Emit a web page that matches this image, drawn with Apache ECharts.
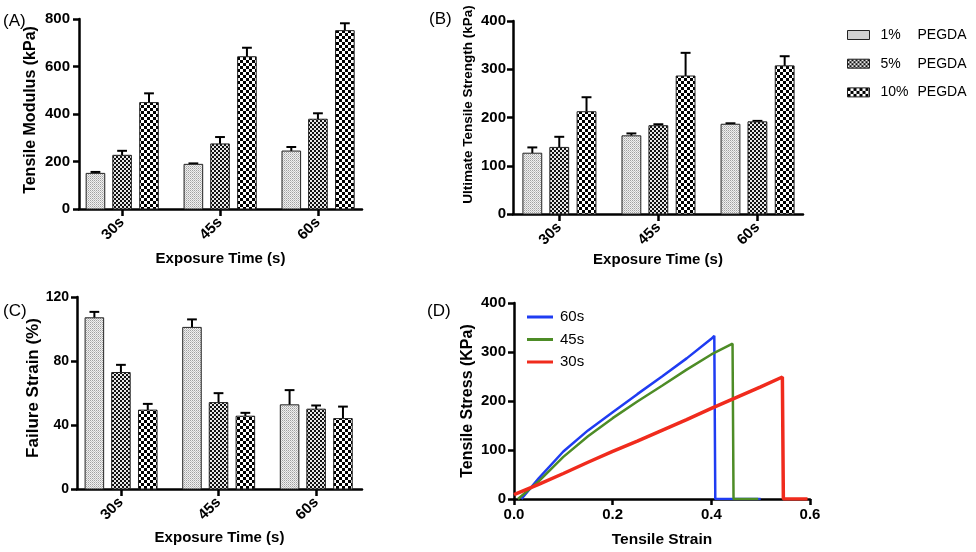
<!DOCTYPE html>
<html>
<head>
<meta charset="utf-8">
<script src="https://cdn.jsdelivr.net/npm/echarts@6/dist/echarts.min.js"></script>
<style>
html,body{margin:0;padding:0;background:#fff;}
#c{width:976px;height:552px;}
</style>
</head>
<body>
<div id="c"></div>
<script>
// ---------------- DATA ----------------
const categories = ['30s', '45s', '60s'];
const doseNames = ['1% PEGDA', '5% PEGDA', '10% PEGDA'];

// (A) Tensile modulus (kPa): mean and error (SD)
const modulusMean = [[150, 188, 244], [226, 274, 378], [448, 641, 751]];
const modulusErr  = [[6, 4, 17], [19, 29, 25], [39, 38, 31]];

// (B) Ultimate tensile strength (kPa)
const utsMean = [[126, 162, 186], [138, 183, 191], [212, 286, 307]];
const utsErr  = [[12, 5, 2], [22, 3, 2], [30, 48, 20]];

// (C) Failure strain (%)
const strainMean = [[107, 101, 52.6], [72.8, 54, 49.9], [49.3, 45.5, 44]];
const strainErr  = [[3.7, 5, 9.2], [4.8, 5.9, 2.3], [3.9, 2.1, 7.5]];

// (D) stress-strain curves
const curveNames = ['60s', '45s', '30s'];
const strain60 = [0.015, 0.05, 0.1, 0.15, 0.2, 0.25, 0.3, 0.35, 0.4, 0.406, 0.408, 0.5];
const stress60 = [0, 42, 97, 140, 177, 214, 250, 287, 327, 333, 0, 0];
const strain45 = [0.008, 0.05, 0.1, 0.15, 0.2, 0.25, 0.3, 0.35, 0.4, 0.443, 0.445, 0.495];
const stress45 = [0, 36, 86, 128, 165, 199, 231, 264, 295, 317, 0, 0];
const strain30 = [0, 0.05, 0.1, 0.15, 0.2, 0.25, 0.3, 0.35, 0.4, 0.45, 0.5, 0.544, 0.546, 0.595];
const stress30 = [9, 30, 52, 75, 97, 118, 140, 162, 185, 207, 229, 249, 0, 0];

// ---------------- STYLE ----------------
const FONT = "'Liberation Sans', Arial, Helvetica, sans-serif";
const offsets = [-0.272, 0, 0.275];
const BW = 0.19;   // bar width in category units
const CW = 0.10;   // error cap width

function makePattern(size, draw) {
  const cv = document.createElement('canvas');
  cv.width = size; cv.height = size;
  const ctx = cv.getContext('2d');
  draw(ctx);
  return { image: cv, repeat: 'repeat' };
}
const pat1 = makePattern(2, ctx => {
  ctx.fillStyle = '#f0f0f0'; ctx.fillRect(0, 0, 2, 2);
  ctx.fillStyle = '#a0a0a0'; ctx.fillRect(0, 0, 1, 1);
  ctx.fillStyle = '#c4c4c4'; ctx.fillRect(1, 1, 1, 1);
});
const pat2 = makePattern(4, ctx => {
  ctx.fillStyle = '#e8e8e8'; ctx.fillRect(0, 0, 4, 4);
  ctx.fillStyle = '#111111'; ctx.fillRect(0, 0, 2, 2); ctx.fillRect(2, 2, 2, 2);
});
const pat3 = makePattern(6, ctx => {
  ctx.fillStyle = '#ffffff'; ctx.fillRect(0, 0, 6, 6);
  ctx.fillStyle = '#000000'; ctx.fillRect(0, 0, 3, 3); ctx.fillRect(3, 3, 3, 3);
});
const patterns = [pat1, pat2, pat3];

function makeRender(fill) {
  return function (params, api) {
    const x = api.value(0), v = api.value(1), e = api.value(2);
    const bl = api.coord([x - BW / 2, 0]);
    const tr = api.coord([x + BW / 2, v]);
    const top = api.coord([x, v + e]);
    const cl = api.coord([x - CW / 2, v + e]);
    const cr = api.coord([x + CW / 2, v + e]);
    return {
      type: 'group',
      children: [
        { type: 'line', shape: { x1: top[0], y1: tr[1], x2: top[0], y2: top[1] }, style: { stroke: '#000', lineWidth: 2 } },
        { type: 'line', shape: { x1: cl[0], y1: cl[1], x2: cr[0], y2: cr[1] }, style: { stroke: '#000', lineWidth: 2 } },
        { type: 'rect', shape: { x: bl[0], y: tr[1], width: tr[0] - bl[0], height: bl[1] - tr[1] },
          style: { fill: fill, stroke: '#222', lineWidth: 1 } }
      ]
    };
  };
}

const axisLine = { show: true, onZero: false, lineStyle: { color: '#000', width: 2.5 } };
const tickStyle = { lineStyle: { color: '#000', width: 2.5 } };

function catXAxis(gridIndex, min, max, nameGap) {
  return {
    type: 'value', gridIndex, min, max,
    axisLine: axisLine,
    axisTick: { show: true, length: 7, customValues: [0, 1, 2], lineStyle: tickStyle.lineStyle },
    axisLabel: { customValues: [0, 1, 2], rotate: 45, margin: 11, color: '#000', fontFamily: FONT,
      fontWeight: 'bold', fontSize: 15, formatter: v => categories[Math.round(v)] },
    splitLine: { show: false },
    name: 'Exposure Time (s)', nameLocation: 'middle', nameGap,
    nameTextStyle: { color: '#000', fontFamily: FONT, fontWeight: 'bold', fontSize: 15 }
  };
}
function valYAxis(gridIndex, max, interval, name, nameGap, nameSize, labelSize, margin, shift) {
  return {
    type: 'value', gridIndex, min: 0, max, interval,
    axisLine: axisLine,
    axisTick: { show: true, length: 6, lineStyle: tickStyle.lineStyle },
    axisLabel: { margin, color: '#000', fontFamily: FONT, fontWeight: 'bold', fontSize: labelSize },
    splitLine: { show: false },
    name, nameLocation: 'middle', nameGap,
    nameTextStyle: { color: '#000', fontFamily: FONT, fontWeight: 'bold', fontSize: nameSize,
      padding: [0, 0, 0, shift] }
  };
}

function barSeries(gridIdx, means, errs) {
  return doseNames.map((nm, d) => ({
    name: nm, type: 'custom', xAxisIndex: gridIdx, yAxisIndex: gridIdx,
    itemStyle: { color: patterns[d] },
    encode: { x: 0, y: 1 },
    data: categories.map((c, i) => [i + offsets[d], means[d][i], errs[d][i]]),
    renderItem: makeRender(patterns[d])
  }));
}

const lineColors = ['#1f3cf2', '#4d8c26', '#f02b1d'];
const curveX = [strain60, strain45, strain30];
const curveY = [stress60, stress45, stress30];
const lineWidths = [2.5, 2.5, 3.5];

const option = {
  backgroundColor: '#fff',
  animation: false,
  grid: [
    { left: 79, top: 19, width: 283, height: 190 },
    { left: 513, top: 21, width: 290, height: 193 },
    { left: 77, top: 297, width: 285, height: 192 },
    { left: 514, top: 303, width: 296, height: 196 }
  ],
  xAxis: [
    catXAxis(0, -0.44, 2.45, 42),
    catXAxis(1, -0.467, 2.46, 38),
    catXAxis(2, -0.45, 2.47, 41),
    {
      type: 'value', gridIndex: 3, min: 0, max: 0.6, interval: 0.2,
      axisLine: axisLine,
      axisTick: { show: true, length: 6, lineStyle: tickStyle.lineStyle },
      axisLabel: { margin: 8, color: '#000', fontFamily: FONT, fontWeight: 'bold', fontSize: 15,
        formatter: v => v.toFixed(1) },
      splitLine: { show: false },
      name: 'Tensile Strain', nameLocation: 'middle', nameGap: 33,
      nameTextStyle: { color: '#000', fontFamily: FONT, fontWeight: 'bold', fontSize: 15.5 }
    }
  ],
  yAxis: [
    valYAxis(0, 800, 200, 'Tensile Modulus (kPa)', 40, 16, 15, 9, 8),
    valYAxis(1, 400, 100, 'Ultimate Tensile Strength (kPa)', 38, 13.5, 15, 7, 26),
    valYAxis(2, 120, 40, 'Failure Strain (%)', 35, 17, 14, 8, 10),
    valYAxis(3, 400, 100, 'Tensile Stress (KPa)', 38, 16, 15, 8, 0)
  ],
  legend: [
    {
      orient: 'vertical', left: 842, top: 22, itemWidth: 22, itemHeight: 9, itemGap: 12.7,
      icon: 'rect',
      data: doseNames.map((nm, d) => ({ name: nm, icon: 'rect',
        itemStyle: { color: patterns[d], borderColor: '#222', borderWidth: 1 } })),
      formatter: nm => { const p = nm.split(' '); return '{s|}{a|' + p[0] + '}{b|' + p[1] + '}'; },
      textStyle: {
        color: '#000', fontFamily: FONT, fontSize: 14, lineHeight: 16,
        rich: {
          s: { width: 6, fontSize: 14, fontFamily: FONT },
          a: { width: 37, fontSize: 14, fontFamily: FONT, color: '#000' },
          b: { fontSize: 14, fontFamily: FONT, color: '#000' }
        }
      },
      selectedMode: false
    },
    {
      orient: 'vertical', left: 522, top: 304, itemWidth: 26, itemHeight: 3, itemGap: 6.5,
      data: curveNames.map((nm, i) => ({ name: nm, icon: 'rect', itemStyle: { color: lineColors[i] } })),
      formatter: nm => '{s|}' + nm,
      textStyle: { color: '#000', fontFamily: FONT, fontSize: 15, lineHeight: 16,
        rich: { s: { width: 2 } } },
      selectedMode: false
    }
  ],
  graphic: [
    { type: 'text', left: 3, top: 13, style: { text: '(A)', font: '17px ' + FONT, fill: '#000' } },
    { type: 'text', left: 429, top: 11, style: { text: '(B)', font: '17px ' + FONT, fill: '#000' } },
    { type: 'text', left: 3, top: 303, style: { text: '(C)', font: '17px ' + FONT, fill: '#000' } },
    { type: 'text', left: 427, top: 303, style: { text: '(D)', font: '17px ' + FONT, fill: '#000' } }
  ],
  series: [
    ...barSeries(0, modulusMean, modulusErr),
    ...barSeries(1, utsMean, utsErr),
    ...barSeries(2, strainMean, strainErr),
    ...curveNames.map((nm, i) => ({
      name: nm, type: 'line', xAxisIndex: 3, yAxisIndex: 3,
      showSymbol: false, symbol: 'none', color: lineColors[i],
      lineStyle: { color: lineColors[i], width: lineWidths[i] },
      data: curveX[i].map((x, k) => [x, curveY[i][k]])
    }))
  ]
};

const chart = echarts.init(document.getElementById('c'), null, { renderer: 'canvas' });
chart.setOption(option);
</script>
</body>
</html>
